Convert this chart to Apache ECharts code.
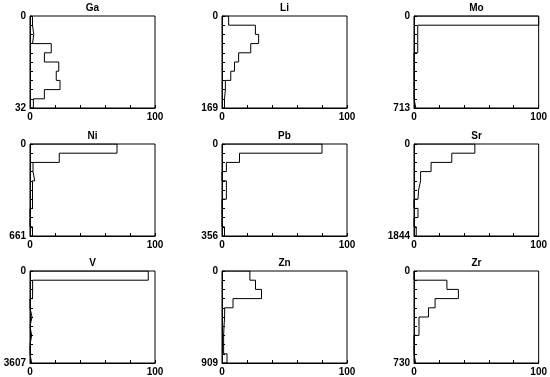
<!DOCTYPE html>
<html>
<head>
<meta charset="utf-8">
<script src="https://cdn.jsdelivr.net/npm/echarts@6/dist/echarts.min.js"></script>
<style>
  html, body { margin: 0; padding: 0; background: #fff; }
  #main { width: 550px; height: 377px; }
</style>
</head>
<body>
<div id="main"></div>
<script>
// element names and the depth (max value) of each panel
var elements = ['Ga', 'Li', 'Mo', 'Ni', 'Pb', 'Sr', 'V', 'Zn', 'Zr'];
var maxValues = [32, 169, 713, 661, 356, 1844, 3607, 909, 730];

// percent in each of the 10 classes, top to bottom
var gaPct = [2, 3, 2, 17, 11.5, 23, 21, 24, 11.5, 2.7];
var liPct = [5.3, 26.7, 29.3, 23, 13.3, 10, 7, 2.7, 2, 2];
var moPct = [100, 3, 3, 3, 0, 0, 0, 0, 0, 1.5];
var niPct = [69.6, 23.4, 2.4, 3.8, 2, 2, 2, 0, 0, 2];
var pbPct = [80, 14, 3.5, 0, 3.5, 3.5, 0, 0, 0, 2];
var srPct = [48.8, 30.3, 13.7, 5.3, 3.7, 3.2, 0, 3.2, 0, 1.8];
var vPct = [94.6, 2.1, 2, 0, 1.6, 0, 1.3, 0, 0, 1.3];
var znPct = [22.3, 26.8, 31.6, 8.8, 2.1, 1.6, 1.3, 1.3, 1.3, 4];
var zrPct = [0, 26.4, 35.6, 16.9, 11.6, 4, 4, 0, 0, 1.3];

var allPct = [gaPct, liPct, moPct, niPct, pbPct, srPct, vPct, znPct, zrPct];

var xTicks = [0, 20, 40, 60, 80, 100];

var colLeft = [30, 222, 414];
var rowTop = [16, 144, 271];
var boxW = 125, boxH = 92;
var fnt = 'Liberation Sans';

var grids = [], xAxes = [], yAxes = [], series = [], titles = [];

elements.forEach(function(name, k) {
	var col = k % 3, row = Math.floor(k / 3);
	var mx = maxValues[k];
	var step = mx / 10;

	grids.push({
		left: colLeft[col], top: rowTop[row], width: boxW, height: boxH,
		containLabel: false,
		show: true, borderColor: '#000', borderWidth: 1, backgroundColor: 'transparent'
	});

	titles.push({
		text: name,
		left: colLeft[col] + boxW / 2, top: rowTop[row] - 13,
		textAlign: 'center', padding: 0,
		textStyle: { fontFamily: fnt, fontSize: 10, fontWeight: 'bold', color: '#000' }
	});

	xAxes.push({
		type: 'value', gridIndex: k, min: 0, max: 100, interval: 20, position: 'bottom',
		axisLine: { show: true, onZero: false, lineStyle: { color: '#000', width: 1 } },
		axisTick: { show: true, inside: true, length: 3, lineStyle: { color: '#000' } },
		splitLine: { show: false },
		axisLabel: {
			margin: 4, fontFamily: fnt, fontSize: 10, fontWeight: 'bold', color: '#000',
			formatter: function(v) { return (v === xTicks[0] || v === xTicks[xTicks.length - 1]) ? String(v) : ''; }
		}
	});

	yAxes.push({
		type: 'value', gridIndex: k, min: 0, max: mx, interval: step, inverse: true, position: 'left',
		axisLine: { show: true, onZero: false, lineStyle: { color: '#000', width: 1 } },
		axisTick: { show: true, inside: true, length: 3, lineStyle: { color: '#000' } },
		splitLine: { show: false },
		axisLabel: {
			margin: 4, fontFamily: fnt, fontSize: 10, fontWeight: 'bold', color: '#000',
			showMinLabel: true, showMaxLabel: true,
			formatter: function(v) {
				if (Math.abs(v) < 1e-9) return '0';
				if (Math.abs(v - mx) < 1e-6) return String(mx);
				return '';
			}
		}
	});

	// histogram outline: step path down the class boundaries
	var pct = allPct[k];
	var pts = [[0, 0]];
	pct.forEach(function(v, i) {
		pts.push([v, i * step]);
		pts.push([v, (i + 1) * step]);
	});
	pts.push([0, mx]);

	series.push({
		type: 'line', xAxisIndex: k, yAxisIndex: k,
		data: pts, showSymbol: false, symbol: 'none', silent: true,
		lineStyle: { color: '#000', width: 1 },
		animation: false
	});
});

var chart = echarts.init(document.getElementById('main'), null, { renderer: 'canvas' });
chart.setOption({
	backgroundColor: '#fff',
	animation: false,
	title: titles,
	grid: grids,
	xAxis: xAxes,
	yAxis: yAxes,
	series: series
});
</script>
</body>
</html>
